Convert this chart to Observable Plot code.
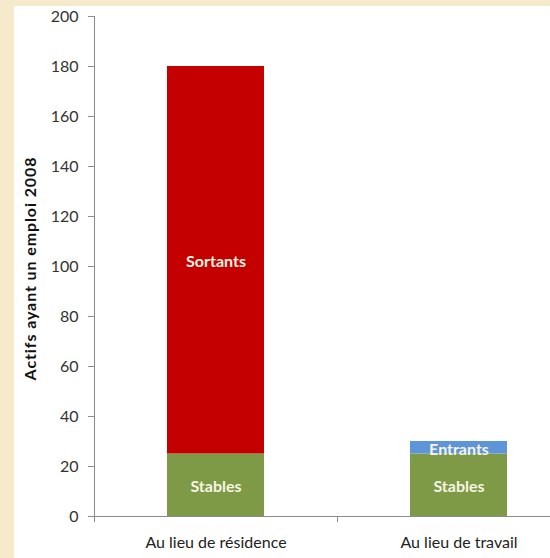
<!DOCTYPE html>
<html>
<head>
<meta charset="utf-8">
<script src="https://cdn.jsdelivr.net/npm/d3@7"></script>
<script src="https://cdn.jsdelivr.net/npm/@observablehq/plot@0.6"></script>
<style>
  html, body { margin: 0; padding: 0; background: #F5EACB; width: 550px; height: 558px; overflow: hidden; }
  #panel { position: absolute; left: 14px; top: 6px; width: 536px; height: 552px; background: #ffffff; }
  #chart { position: absolute; left: 0; top: 0; }
  #chart svg { background: transparent; }
  .ylab text { letter-spacing: 0.9px; }
</style>
</head>
<body>
<div id="panel"></div>
<div id="chart"></div>
<script>
const categories = ["Au lieu de résidence", "Au lieu de travail"];
const series = ["Stables", "Sortants", "Entrants"];
const stables = [25, 25];
const sortants = [155, 0];
const entrants = [0, 5];
const yTicks = [0, 20, 40, 60, 80, 100, 120, 140, 160, 180, 200];
const yLabel = "Actifs ayant un emploi 2008";
const colors = ["#7F9A46", "#C40000", "#5E95D8"];

const valuesBySeries = [stables, sortants, entrants];
const table = [];
series.forEach((s, si) => {
  categories.forEach((c, ci) => {
    table.push({category: c, series: s, value: valuesBySeries[si][ci]});
  });
});
const labelled = table.filter(d => d.value > 0);

const W = 550, H = 558;
const left = 94, xEnd = 580;
const step = (xEnd - left) / categories.length;
const font = "Lato, 'Open Sans', sans-serif";

const chart = Plot.plot({
  width: W,
  height: H,
  marginLeft: left,
  marginRight: 0,
  marginTop: 16,
  marginBottom: 42,
  style: {background: "transparent", fontFamily: font, fontSize: "16px", color: "#333"},
  x: {domain: categories, range: [left, xEnd], paddingInner: 0.6, paddingOuter: 0.3, label: null},
  y: {domain: [0, 200], label: null},
  color: {domain: series, range: colors},
  marks: [
    Plot.barY(table, Plot.stackY({x: "category", y: "value", z: "series", fill: "series", order: series})),
    Plot.text(labelled, Plot.stackY({
      x: "category", y: "value", z: "series", text: "series", order: series,
      fill: "#F6F4E4", fontWeight: "bold", fontSize: 16, fontFamily: font, dy: 2
    })),
    Plot.frame({anchor: "left", stroke: "#8C8C8C", strokeOpacity: 1}),
    Plot.ruleY([0], {stroke: "#8C8C8C"}),
    Plot.ruleX(categories, {x: d => d, y1: 0, y2: 0, insetBottom: -6, dx: -step / 2, stroke: "#8C8C8C"}),
    Plot.axisY({ticks: yTicks, tickSize: 6, tickPadding: 10, stroke: "#8C8C8C", fill: "#333", fontSize: 16, fontFamily: font, label: null}),
    Plot.axisX({tickSize: 0, tickPadding: 20, fill: "#222", fontSize: 16, fontFamily: font, label: null}),
    Plot.text([yLabel], {
      frameAnchor: "left", dx: -64, dy: 2, rotate: -90, text: d => d, textAnchor: "middle",
      fontWeight: "bold", fontSize: 16, fill: "#111", fontFamily: font, className: "ylab"
    })
  ]
});
document.getElementById("chart").appendChild(chart);
</script>
</body>
</html>
